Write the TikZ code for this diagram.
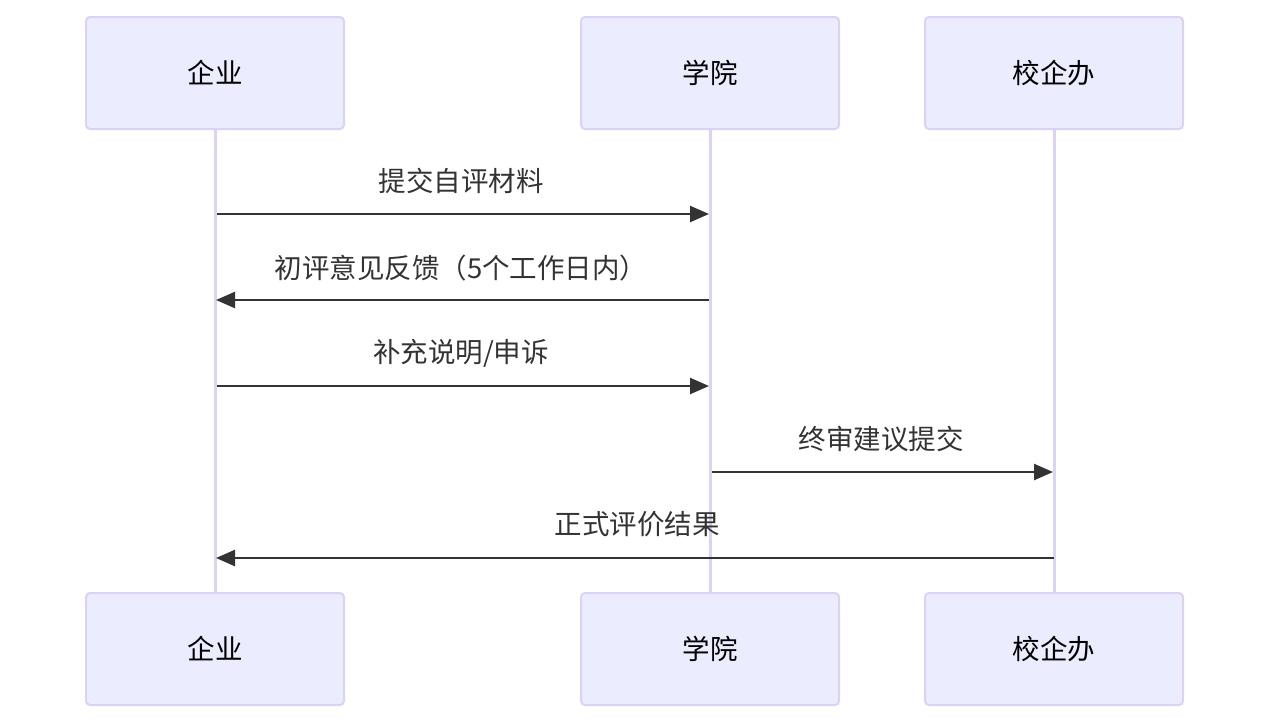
\documentclass[tikz,border=0pt]{standalone}
\usepackage{fontspec}
\setmainfont{Noto Sans CJK SC}
\usetikzlibrary{arrows.meta}
\definecolor{boxfill}{HTML}{ECECFF}
\definecolor{boxline}{HTML}{DCD2F4}
\definecolor{txt}{HTML}{333333}
\tikzset{
  actor/.style={draw=boxline, line width=2pt, fill=boxfill, rounded corners=4pt,
    minimum width=258pt, minimum height=112pt, inner sep=0pt, font=\fontsize{27.5}{32}\selectfont, text=black},
  life/.style={draw=boxline, line width=3pt},
  msg/.style={draw=txt, line width=2.5pt, -{Triangle[length=19pt,width=16pt]}},
  lbl/.style={font=\fontsize{27.5}{32}\selectfont, text=txt, inner sep=0pt}
}
\begin{document}
\begin{tikzpicture}[x=1pt,y=-1pt]
\useasboundingbox (0,0) rectangle (1269,724);
% top actors
\node[actor] (a1) at (215,73) {企业};
\node[actor] (a2) at (710,73) {学院};
\node[actor] (a3) at (1054,73) {校企办};
% bottom actors
\node[actor] (b1) at (215,649) {企业};
\node[actor] (b2) at (710,649) {学院};
\node[actor] (b3) at (1054,649) {校企办};
% lifelines
\draw[life] (a1.south) -- (b1.north);
\draw[life] (a2.south) -- (b2.north);
\draw[life] (a3.south) -- (b3.north);
% message anchors
\coordinate (m1s) at (217,214); \coordinate (m1e) at (709,214);
\coordinate (m2s) at (709,300); \coordinate (m2e) at (216,300);
\coordinate (m3s) at (217,386); \coordinate (m3e) at (709,386);
\coordinate (m4s) at (712,472); \coordinate (m4e) at (1053,472);
\coordinate (m5s) at (1054,558); \coordinate (m5e) at (216,558);
\draw[msg] (m1s) -- (m1e);
\draw[msg] (m2s) -- (m2e);
\draw[msg] (m3s) -- (m3e);
\draw[msg] (m4s) -- (m4e);
\draw[msg] (m5s) -- (m5e);
\node[lbl] (t1) at (461,181) {提交自评材料};
\node[lbl] (t2) at (461,268) {初评意见反馈（5个工作日内）};
\node[lbl] (t3) at (461,353) {补充说明/申诉};
\node[lbl] (t4) at (881,439) {终审建议提交};
\node[lbl] (t5) at (637,524) {正式评价结果};
\end{tikzpicture}
\end{document}
